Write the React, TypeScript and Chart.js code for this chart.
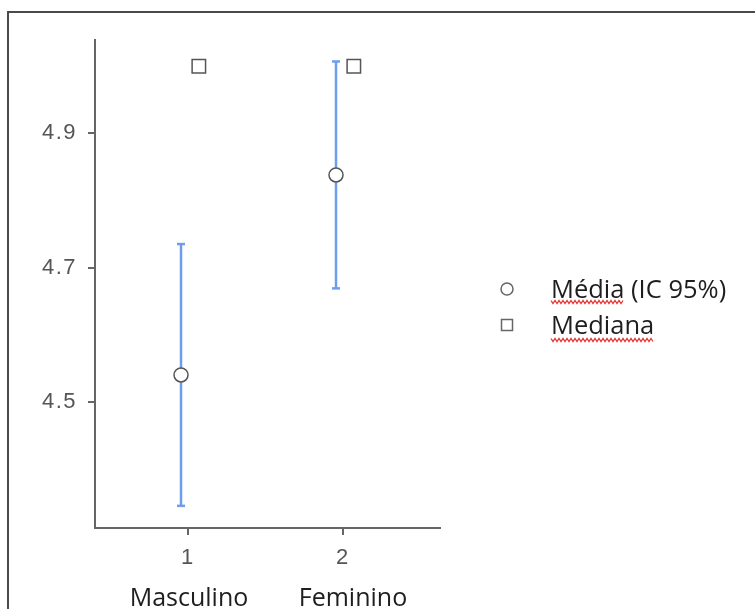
import React, { useEffect, useRef } from "react";
import { Chart, registerables } from "chart.js";

Chart.register(...registerables);

// ---- data ----
const categories = ["Masculino", "Feminino"];
const groupCodes = [1, 2];
const means = [4.54, 4.838];
const ciLower = [4.345, 4.669];
const ciUpper = [4.735, 5.007];
const medians = [5.0, 5.0];
const yTicks = [4.5, 4.7, 4.9];
const legendLabels = ["Média (IC 95%)", "Mediana"];

// ---- style ----
const MEAN_DODGE = -0.045;
const MEDIAN_DODGE = 0.07;
const BLUE = "#6d9eeb";
const MARK = "#555555";
const AXIS = "#666666";

const overlayPlugin = {
  id: "overlay",
  beforeDraw(chart: any) {
    (chart.ctx as any).letterSpacing = "1.5px";
  },
  afterDraw(chart: any) {
    const ctx = chart.ctx as CanvasRenderingContext2D;
    const xs = chart.scales.x;
    ctx.save();
    (ctx as any).letterSpacing = "0px";
    // category labels
    ctx.fillStyle = "#1e1e1e";
    ctx.font = "25px 'Open Sans'";
    ctx.textAlign = "center";
    ctx.textBaseline = "alphabetic";
    const catShift = [1, 10];
    categories.forEach((c, i) => {
      ctx.fillText(c, xs.getPixelForValue(groupCodes[i]) + catShift[i], 606);
    });
    // legend
    const lx = 507;
    const rows = [289, 325];
    ctx.strokeStyle = "#666";
    ctx.lineWidth = 1.5;
    ctx.fillStyle = "#fff";
    ctx.beginPath();
    ctx.arc(lx, rows[0], 6, 0, Math.PI * 2);
    ctx.fill();
    ctx.stroke();
    ctx.beginPath();
    ctx.rect(lx - 5.5, rows[1] - 5.5, 11, 11);
    ctx.fill();
    ctx.stroke();
    ctx.fillStyle = "#1e1e1e";
    ctx.font = "25.5px 'Open Sans'";
    ctx.textAlign = "left";
    const tx = 551;
    legendLabels.forEach((l, i) => {
      const base = rows[i] + 9;
      ctx.fillText(l, tx, base);
      const word = l.split(" ")[0];
      const w = ctx.measureText(word).width;
      // spell-check style wavy underline
      ctx.strokeStyle = "#e53935";
      ctx.lineWidth = 1.3;
      ctx.beginPath();
      const yy = base + 4 + i * 2;
      for (let x = 0; x <= w; x += 2) {
        const y = yy + ((x / 2) % 2 === 0 ? -1.5 : 1.5);
        if (x === 0) ctx.moveTo(tx + x, y);
        else ctx.lineTo(tx + x, y);
      }
      ctx.stroke();
    });
    ctx.restore();
  },
};

export default function App() {
  const ref = useRef<HTMLCanvasElement>(null);
  useEffect(() => {
    if (!ref.current) return;
    const errorSets = categories.map((c, i) => ({
      type: "line" as const,
      label: "IC " + c,
      data: [
        { x: groupCodes[i] + MEAN_DODGE, y: ciLower[i] },
        { x: groupCodes[i] + MEAN_DODGE, y: ciUpper[i] },
      ],
      showLine: true,
      borderColor: BLUE,
      borderWidth: 2.5,
      pointStyle: "line",
      pointRadius: 4,
      pointBorderWidth: 2.5,
      pointBorderColor: BLUE,
      pointBackgroundColor: BLUE,
    }));
    const tickFont = { family: "'Liberation Sans', Arial", size: 22 };
    const chart = new Chart(ref.current, {
      type: "scatter",
      data: {
        datasets: [
          {
            label: legendLabels[0],
            data: categories.map((_, i) => ({ x: groupCodes[i] + MEAN_DODGE, y: means[i] })),
            pointStyle: "circle",
            pointRadius: 7,
            pointBackgroundColor: "#fff",
            pointBorderColor: MARK,
            pointBorderWidth: 1.5,
          },
          {
            label: legendLabels[1],
            data: categories.map((_, i) => ({ x: groupCodes[i] + MEDIAN_DODGE, y: medians[i] })),
            pointStyle: "rect",
            pointRadius: 9.5,
            pointBackgroundColor: "#fff",
            pointBorderColor: MARK,
            pointBorderWidth: 1.5,
          },
          ...errorSets,
        ] as any,
      },
      options: {
        animation: false,
        responsive: false,
        devicePixelRatio: 1,
        layout: { padding: { top: 40, right: 315, left: 0, bottom: 0 } },
        plugins: { legend: { display: false }, tooltip: { enabled: false } },
        scales: {
          x: {
            type: "linear",
            min: 0.4,
            max: 2.626,
            afterBuildTicks: (s: any) => {
              s.ticks = groupCodes.map((v) => ({ value: v }));
            },
            afterFit: (s: any) => {
              s.height = 81;
            },
            ticks: {
              color: "#555",
              font: tickFont,
              padding: 10,
              callback: (v: any) => String(v),
            },
            grid: {
              display: true,
              drawOnChartArea: false,
              drawTicks: true,
              tickLength: 7,
              color: AXIS,
              lineWidth: 2,
            },
            border: { display: true, color: AXIS, width: 2 },
          },
          y: {
            type: "linear",
            min: 4.312,
            max: 5.039,
            afterBuildTicks: (s: any) => {
              s.ticks = yTicks.map((v) => ({ value: v }));
            },
            afterFit: (s: any) => {
              s.width = 95;
            },
            ticks: {
              color: "#555",
              font: tickFont,
              padding: 11,
              callback: (v: any) => Number(v).toFixed(1),
            },
            grid: {
              display: true,
              drawOnChartArea: false,
              drawTicks: true,
              tickLength: 7,
              color: AXIS,
              lineWidth: 2,
            },
            border: { display: true, color: AXIS, width: 2 },
          },
        },
      },
      plugins: [overlayPlugin],
    });
    return () => chart.destroy();
  }, []);
  return (
    <div style={{ position: "fixed", left: 0, top: 0, width: 755, height: 609, overflow: "hidden", background: "#fff" }}>
      <div
        style={{
          position: "absolute",
          left: 7,
          top: 11,
          width: 900,
          height: 800,
          border: "2px solid #4a4a4a",
          boxSizing: "border-box",
        }}
      />
      <canvas ref={ref} width={755} height={609} style={{ position: "absolute", left: 0, top: 0, width: 755, height: 609 }} />
    </div>
  );
}
